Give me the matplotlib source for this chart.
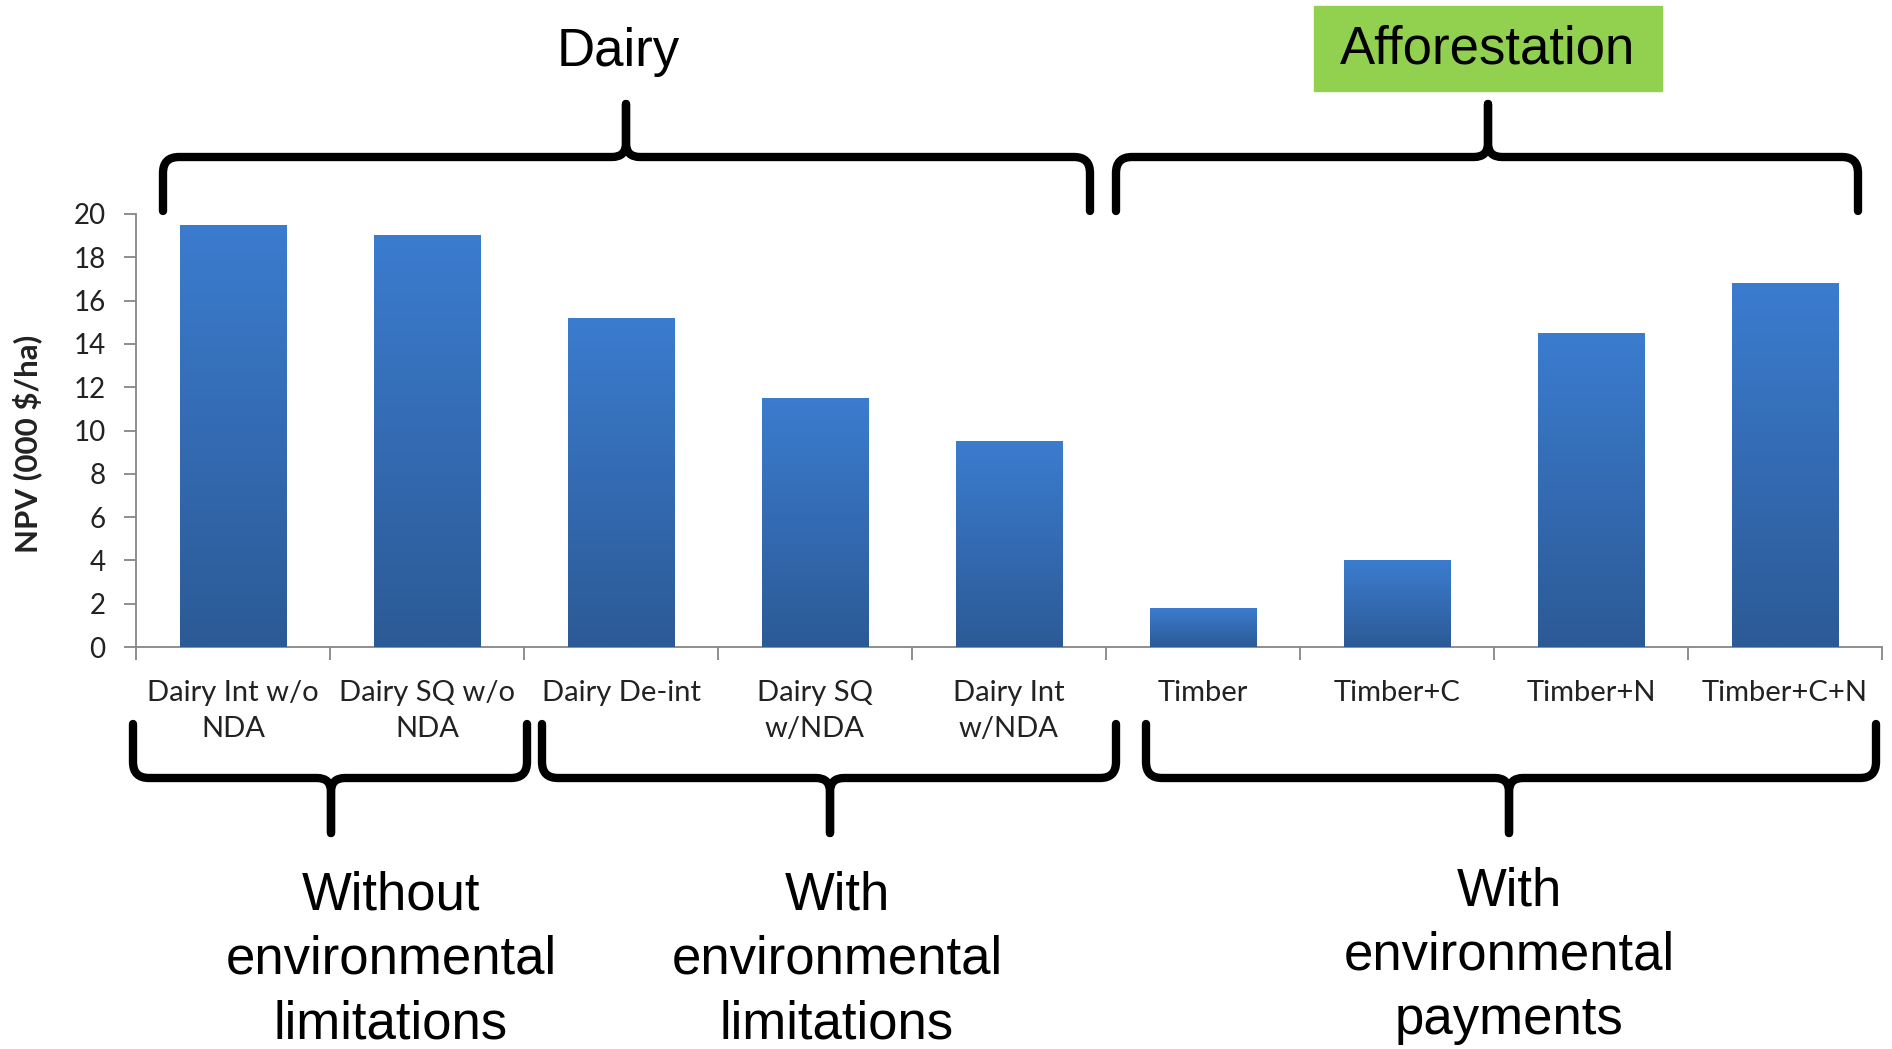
import numpy as np
import matplotlib
matplotlib.use("Agg")
import matplotlib.pyplot as plt
from matplotlib.path import Path
from matplotlib.patches import PathPatch, Rectangle
from matplotlib.colors import LinearSegmentedColormap

# data
categories = ["Dairy Int w/o\nNDA", "Dairy SQ w/o\nNDA", "Dairy De-int", "Dairy SQ\nw/NDA",
              "Dairy Int\nw/NDA", "Timber", "Timber+C", "Timber+N", "Timber+C+N"]
npv = [19.5, 19.05, 15.2, 11.5, 9.5, 1.8, 4.0, 14.5, 16.8]
yticks = list(range(0, 21, 2))

W, H = 1892, 1049
fig = plt.figure(figsize=(W / 100, H / 100), dpi=100)

# main bar axes (placed in pixel terms of the figure)
ax = fig.add_axes([136 / W, 1 - 647 / H, (1882 - 136) / W, (647 - 214) / H])
x = np.arange(len(categories))
bars = ax.bar(x, npv, width=0.55, color="#3470bb", zorder=2)

# vertical gradient on every bar
cmap = LinearSegmentedColormap.from_list("bar", ["#2c5a96", "#3b7ccf"])
grad = np.linspace(0, 1, 256).reshape(-1, 1)
for b in bars:
    img = ax.imshow(grad, extent=[b.get_x(), b.get_x() + b.get_width(), 0, b.get_height()],
                    cmap=cmap, aspect="auto", origin="lower", zorder=3)
    img.set_clip_path(b)

ax.set_xlim(-0.5, len(categories) - 0.5)
ax.set_ylim(0, 20)
ax.set_yticks(yticks)
ax.set_xticks(x)
ax.set_xticklabels(categories)
ax.set_xticks(np.arange(-0.5, len(categories), 1), minor=True)

for s in ["top", "right"]:
    ax.spines[s].set_visible(False)
for s in ["left", "bottom"]:
    ax.spines[s].set_color("#868686")
    ax.spines[s].set_linewidth(1.3)

ax.tick_params(axis="x", which="major", length=0, pad=24, labelsize=21, labelcolor="#222222")
ax.tick_params(axis="x", which="minor", length=9, width=1.3, color="#868686", direction="out")
ax.tick_params(axis="y", length=9, width=1.3, color="#868686", direction="out", pad=13,
               labelsize=20, labelcolor="#222222")
for lbl in ax.get_xticklabels() + ax.get_yticklabels():
    lbl.set_family("Lato")
for lbl in ax.get_xticklabels():
    lbl.set_linespacing(1.45)

ax.set_ylabel("NPV (000 $/ha)", family="Lato", fontweight="bold", fontsize=22.5, color="#222222")
ax.yaxis.label.set_va("center")
ax.yaxis.set_label_coords((27 - 136) / 1746, (647 - 444) / 433)

# overlay in figure pixels for braces and group titles
ov = fig.add_axes([0, 0, 1, 1], facecolor="none")
ov.set_xlim(0, W)
ov.set_ylim(H, 0)
ov.axis("off")


def half_brace(xe, xs, yf, ye, ys, r_end=16, r_mid=14):
    # from end tip (xe, ye) along flat line yf to spike tip (xs, ys)
    se = np.sign(ye - yf)
    sm = np.sign(ys - yf)
    dx = np.sign(xs - xe)
    verts = [(xe, ye), (xe, yf + se * r_end), (xe, yf), (xe + dx * r_end, yf),
             (xs - dx * r_mid, yf), (xs, yf), (xs, yf + sm * r_mid), (xs, ys)]
    codes = [Path.MOVETO, Path.LINETO, Path.CURVE3, Path.CURVE3,
             Path.LINETO, Path.CURVE3, Path.CURVE3, Path.LINETO]
    ov.add_patch(PathPatch(Path(verts, codes), fill=False, lw=6, color="black",
                           capstyle="round", joinstyle="round"))


def brace(x0, x1, xm, yf, ye, ys):
    half_brace(x0, xm, yf, ye, ys)
    half_brace(x1, xm, yf, ye, ys)


# top braces
brace(163, 1090, 626, 157, 211, 104)
brace(1116, 1858, 1488, 157, 211, 104)
# bottom braces
brace(133, 527, 331, 778, 724, 833)
brace(542, 1116, 830, 778, 724, 833)
brace(1146, 1876, 1509, 778, 724, 833)

big = dict(family="Liberation Sans", fontsize=38, color="black", ha="center", va="center")
ov.text(618, 52, "Dairy", **big)
ov.add_patch(Rectangle((1314, 6), 348, 85, color="#92d050", zorder=1))
ov.text(1488, 50, "Afforestation", zorder=2, **big)

ov.text(391, 960, "Without\nenvironmental\nlimitations", linespacing=1.36, **big)
ov.text(837, 960, "With\nenvironmental\nlimitations", linespacing=1.36, **big)
ov.text(1509, 956, "With\nenvironmental\npayments", linespacing=1.36, **big)

fig.savefig("out.png", dpi=100)
